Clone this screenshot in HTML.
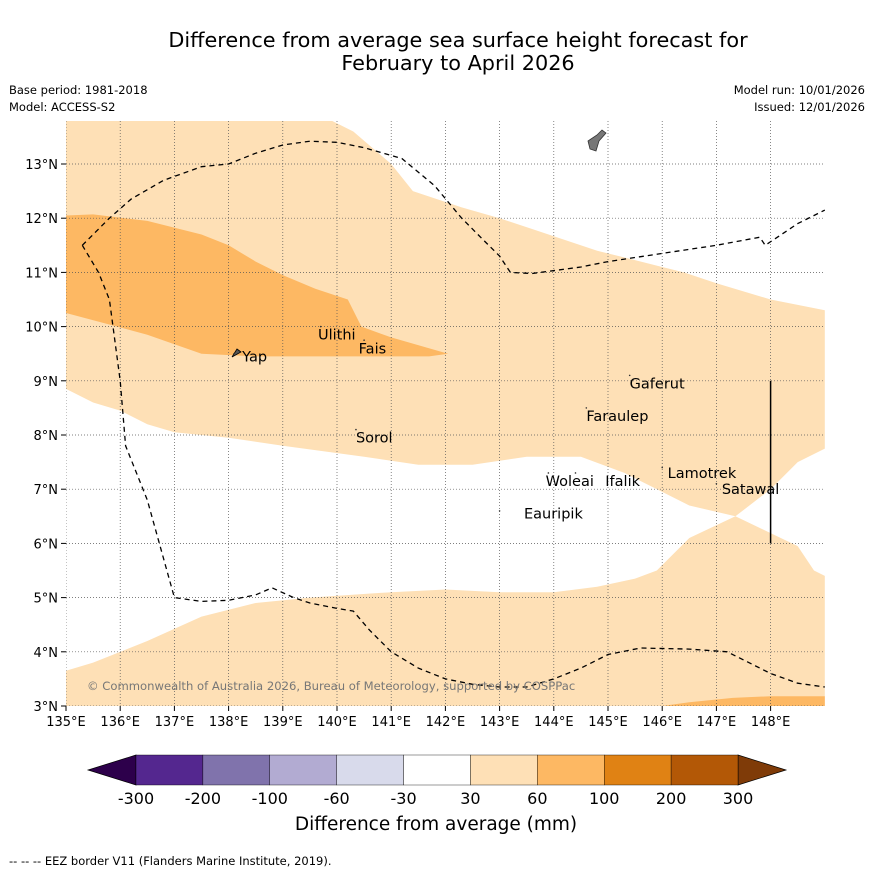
<!DOCTYPE html>
<html><head><meta charset="utf-8"><style>
body{margin:0;background:#fff;font-family:"Liberation Sans","DejaVu Sans",sans-serif;}
svg{display:block}
</style></head><body>
<svg id="chart" width="873" height="873" viewBox="0 0 873 873" font-family="DejaVu Sans, Liberation Sans, sans-serif">
<rect width="873" height="873" fill="#fff"/>
<text x="458" y="47" font-size="20.8" text-anchor="middle">Difference from average sea surface height forecast for</text>
<text x="458" y="70" font-size="20.8" text-anchor="middle">February to April 2026</text>
<text x="9" y="94" font-size="11.5">Base period: 1981-2018</text>
<text x="9" y="111" font-size="11.5">Model: ACCESS-S2</text>
<text x="865" y="94" font-size="11.5" text-anchor="end">Model run: 10/01/2026</text>
<text x="865" y="111" font-size="11.5" text-anchor="end">Issued: 12/01/2026</text>
<defs><clipPath id="clip"><rect x="66" y="121" width="759" height="585"/></clipPath></defs>
<g id="map" clip-path="url(#clip)"></g>
<g id="axes"></g>
<g id="cbar"></g>
<text x="436" y="830" font-size="18.5" text-anchor="middle">Difference from average (mm)</text>
<text x="9" y="865" font-size="11.5">--  --  -- EEZ border V11 (Flanders Marine Institute, 2019).</text>
</svg>
<script>
const lonTicks=[135,136,137,138,139,140,141,142,143,144,145,146,147,148];
const latTicks=[3,4,5,6,7,8,9,10,11,12,13];
const lightNorth=[[135,13.9],[139.7,13.9],[140.3,13.6],[141,13.0],[141.4,12.5],[142.3,12.2],[143,12.0],[143.6,11.8],[144.8,11.4],[146,11.1],[146.4,11.0],[147,10.8],[148,10.5],[148.5,10.4],[149,10.3],[149,7.75],[148.5,7.5],[148,7.0],[147.35,6.5],[146.5,6.7],[146,6.95],[145.3,7.3],[144.5,7.6],[143.5,7.6],[142.5,7.45],[141.5,7.45],[140.5,7.6],[139,7.8],[138,7.95],[137,8.05],[136.5,8.2],[136,8.45],[135.5,8.6],[135,8.85]];
const lightSouth=[[135,3.65],[135.5,3.8],[136.5,4.2],[137.5,4.65],[138.5,4.9],[139.5,5.0],[141,5.1],[142,5.15],[143,5.1],[144,5.1],[144.8,5.2],[145.5,5.35],[145.9,5.5],[146.5,6.1],[147.35,6.5],[148.5,5.95],[148.8,5.5],[149,5.4],[149,2.9],[135,2.9]];
const mediumNorth=[[135,12.05],[135.5,12.07],[136.5,11.95],[137.5,11.7],[138,11.5],[138.5,11.2],[139,10.95],[139.6,10.7],[140.2,10.5],[140.45,10.0],[141,9.8],[142.05,9.5],[141.7,9.45],[140.3,9.45],[138.5,9.45],[137.5,9.5],[136.5,9.85],[135,10.25]];
const mediumSouth=[[146,3.0],[146.5,3.07],[147.3,3.15],[148,3.18],[149,3.18],[149,2.9],[146,2.9]];
const eezNorth=[[135.3,11.5],[135.8,12.0],[136.2,12.35],[136.8,12.7],[137.5,12.95],[138,13.0],[138.5,13.2],[139,13.35],[139.5,13.42],[140,13.4],[140.5,13.3],[141.2,13.1],[141.8,12.6],[142.3,12.0],[142.7,11.6],[143,11.3],[143.2,11.0],[143.6,10.98],[144.5,11.1],[145,11.2],[146,11.35],[147,11.5],[147.8,11.65],[147.9,11.5],[148.2,11.7],[148.5,11.9],[149,12.15]];
const eezSouth=[[135.3,11.5],[135.6,11.0],[135.8,10.5],[136,9],[136.1,7.8],[136.5,6.8],[137,5.0],[137.5,4.93],[138,4.95],[138.5,5.05],[138.8,5.18],[139.2,5.0],[139.5,4.9],[140,4.8],[140.3,4.75],[140.6,4.4],[141,4.0],[141.5,3.7],[142,3.5],[142.5,3.4],[143,3.35],[143.5,3.35],[144,3.5],[144.5,3.7],[145,3.95],[145.6,4.07],[146.5,4.05],[147.2,4.0],[147.5,3.85],[148,3.6],[148.5,3.42],[149,3.35]];
const islands=[["Yap",138.1,9.5,138.25,9.45],["Ulithi",139.7,10.0,139.65,9.85],["Fais",140.5,9.75,140.4,9.6],["Gaferut",145.4,9.1,145.4,8.95],["Faraulep",144.6,8.5,144.6,8.35],["Sorol",140.35,8.1,140.35,7.95],["Lamotrek",146.0,7.4,146.1,7.3],["Satawal",147.0,7.1,147.1,7.0],["Woleai",143.9,7.3,143.85,7.15],["Ifalik",144.4,7.3,144.95,7.15],["Eauripik",143.0,6.6,143.45,6.55]];
const cbLabels=["-300","-200","-100","-60","-30","30","60","100","200","300"];
const cbColors=["#54278f","#8073ac","#b2abd2","#d8daeb","#ffffff","#fee0b6","#fdb863","#e08214","#b35806"];
const X=lon=>66+(lon-135)*54.2, Y=lat=>706-(lat-3)*54.2;
const NS="http://www.w3.org/2000/svg";
function mk(tag,attrs,parent){const e=document.createElementNS(NS,tag);for(const k in attrs)e.setAttribute(k,attrs[k]);parent.appendChild(e);return e;}
const map=document.getElementById('map'),axes=document.getElementById('axes'),cb=document.getElementById('cbar');
const pts=a=>a.map(p=>X(p[0]).toFixed(1)+','+Y(p[1]).toFixed(1)).join(' ');
let e;
e=mk('polygon',{points:pts(lightNorth),fill:'#fee0b6'},map);


e=mk('polygon',{points:pts(lightSouth),fill:'#fee0b6'},map);


e=mk('polygon',{points:pts(mediumNorth),fill:'#fdb863'},map);


e=mk('polygon',{points:pts(mediumSouth),fill:'#fdb863'},map);


lonTicks.forEach(l=>{e=mk('line',{x1:X(l),x2:X(l),y1:121,y2:706,stroke:'#555','stroke-width':0.7,'stroke-dasharray':'1,2'},map);

});
latTicks.forEach(l=>{e=mk('line',{x1:66,x2:825,y1:Y(l),y2:Y(l),stroke:'#555','stroke-width':0.7,'stroke-dasharray':'1,2'},map);

});
[eezNorth,eezSouth].forEach(a=>{e=mk('polyline',{points:pts(a),fill:'none',stroke:'#000','stroke-width':1.3,'stroke-dasharray':'5,4'},map);

});
e=mk('line',{x1:X(148),x2:X(148),y1:Y(6),y2:Y(9),stroke:'#000','stroke-width':1.5},map);


e=mk('polygon',{points:'588,141 597,135 602,130 606,133 599,141 596,151 590,149',fill:'#777',stroke:'#333','stroke-width':0.8},map);


e=mk('polygon',{points:'232,357 237,349 241,352',fill:'#555',stroke:'#000','stroke-width':0.8},map);


islands.forEach(s=>{
e=mk('circle',{cx:X(s[1]),cy:Y(s[2]),r:0.8,fill:'#333'},map);


e=mk('text',{x:X(s[3]),y:Y(s[4])+5,'font-size':14.5},map);e.textContent=s[0];

});
e=mk('text',{x:87,y:690,'font-size':11.6,fill:'#777'},map);e.textContent='© Commonwealth of Australia 2026, Bureau of Meteorology, supported by COSPPac';


lonTicks.forEach(l=>{mk('line',{x1:X(l),x2:X(l),y1:706,y2:711,stroke:'#000'},axes);
e=mk('text',{x:X(l),y:726,'font-size':13,'text-anchor':'middle'},axes);e.textContent=l+'°E';

});
latTicks.forEach(l=>{mk('line',{x1:61,x2:66,y1:Y(l),y2:Y(l),stroke:'#000'},axes);
e=mk('text',{x:58,y:Y(l)+5,'font-size':13,'text-anchor':'end'},axes);e.textContent=l+'°N';

});
const cx0=136,cw=(738-136)/cbColors.length;
e=mk('polygon',{points:`${cx0},755 ${cx0},785 88,770`,fill:'#2d004b',stroke:'#000','stroke-width':0.7},cb);


e=mk('polygon',{points:`738,755 738,785 786,770`,fill:'#7f3b08',stroke:'#000','stroke-width':0.7},cb);


cbColors.forEach((c,i)=>{e=mk('rect',{x:cx0+i*cw,y:755,width:cw,height:30,fill:c,stroke:'#000','stroke-width':0.4},cb);

});
cbLabels.forEach((t,i)=>{e=mk('text',{x:cx0+i*cw,y:804,'font-size':16,'text-anchor':'middle'},cb);e.textContent=t;

});
</script>
</body></html>
